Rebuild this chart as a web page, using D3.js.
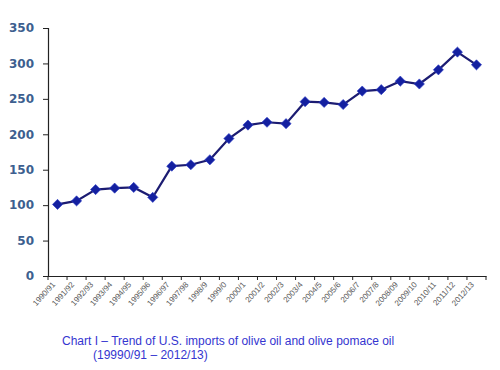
<!DOCTYPE html>
<html>
<head>
<meta charset="utf-8">
<script src="https://cdn.jsdelivr.net/npm/d3@7"></script>
<style>
body { margin: 0; background: #fff; }
</style>
</head>
<body>
<svg id="chart" width="500" height="370"></svg>
<script>
// season labels and import values
let seasons = ["1990/91", "1991/92", "1992/93", "1993/94", "1994/95", "1995/96", "1996/97", "1997/98",
	"1998/9", "1999/0", "2000/1", "2001/2", "2002/3", "2003/4", "2004/5", "2005/6", "2006/7",
	"2007/8", "2008/09", "2009/10", "2010/11", "2011/12", "2012/13"];
let imports = [101, 106, 122, 124, 125, 111, 155, 157, 164, 194, 213, 217, 215, 246, 245, 242,
	261, 263, 275, 271, 291, 316, 298];
let yTicks = [0, 50, 100, 150, 200, 250, 300, 350];

let svg = d3.select("#chart");
let plotLeft = 48, plotRight = 486, plotTop = 28, plotBottom = 276;

let x = d3.scaleBand().domain(seasons).range([plotLeft, plotRight]);
let y = d3.scaleLinear().domain([0, 350]).range([plotBottom, plotTop]);

//Y axis
let yAxis = svg.append("g")
	.attr("transform", "translate(" + plotLeft + ",0)")
	.call(d3.axisLeft(y).tickValues(yTicks).tickSize(5).tickPadding(9));
yAxis.select(".domain").attr("stroke", "#222").attr("stroke-width", 1.2);
yAxis.selectAll("line").attr("stroke", "#222");
yAxis.selectAll("text")
	.attr("fill", "#3d5f8f")
	.style("font-family", "'DejaVu Sans', Verdana, sans-serif")
	.style("font-weight", "bold")
	.style("font-size", "12px");

//X axis, ticks at band edges
let xAxis = svg.append("g")
	.attr("transform", "translate(0," + plotBottom + ")")
	.call(d3.axisBottom(x).tickSize(0).tickFormat(""));
xAxis.select(".domain").attr("stroke", "#222").attr("stroke-width", 1.2);
let edges = seasons.map(d => x(d)).concat([plotRight]);
svg.append("g").selectAll("line")
	.data(edges)
	.join("line")
	.attr("x1", d => d).attr("x2", d => d)
	.attr("y1", plotBottom).attr("y2", plotBottom + 4)
	.attr("stroke", "#222");

svg.append("g").selectAll("text")
	.data(seasons)
	.join("text")
	.attr("transform", d => "translate(" + (x(d) + x.bandwidth() / 2 - 4) + "," + (plotBottom + 7) + ") rotate(-48)")
	.attr("text-anchor", "end")
	.attr("dy", "0.35em")
	.attr("fill", "#5a5a5a")
	.style("font-family", "'Liberation Sans', Arial, sans-serif")
	.style("font-size", "8px")
	.text(d => d);

//Line and markers
let pts = seasons.map((d, i) => [x(d) + x.bandwidth() / 2, y(imports[i])]);
svg.append("path")
	.attr("d", d3.line()(pts))
	.attr("fill", "none")
	.attr("stroke", "#1c1c72")
	.attr("stroke-width", 2.2);

svg.append("g").selectAll("path")
	.data(pts)
	.join("path")
	.attr("transform", d => "translate(" + d[0] + "," + d[1] + ") rotate(45)")
	.attr("d", "M-3.6,-3.6H3.6V3.6H-3.6Z")
	.attr("fill", "#1420a0")
	.attr("stroke", "#3040c8")
	.attr("stroke-width", 0.6);

//Caption
let caption = svg.append("g")
	.attr("fill", "#3535d0")
	.style("font-family", "'Liberation Sans', Arial, sans-serif")
	.style("font-size", "12px");
caption.append("text")
	.attr("x", 62).attr("y", 345)
	.text("Chart I \u2013 Trend of U.S. imports of olive oil and olive pomace oil");
caption.append("text")
	.attr("x", 93).attr("y", 359)
	.text("(19990/91 \u2013 2012/13)");
</script>
</body>
</html>
